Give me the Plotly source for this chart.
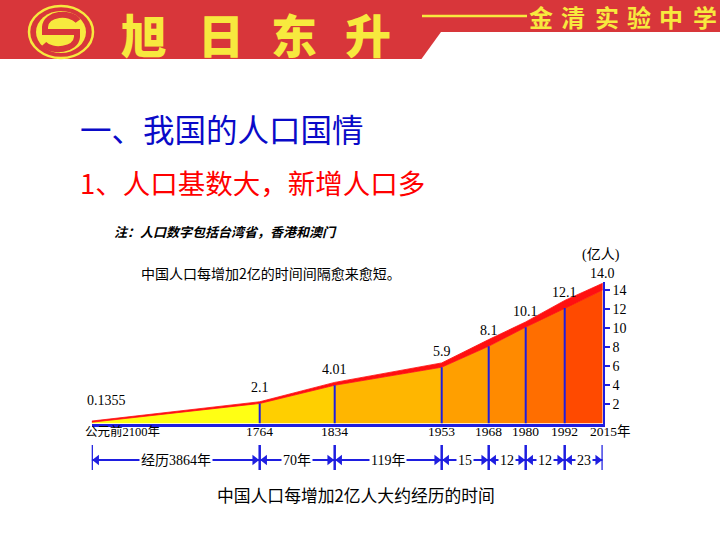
import plotly.graph_objects as go

# ---------------- data ----------------
years = ["公元前2100年", "1764", "1834", "1953", "1968", "1980", "1992", "2015年"]
population = [0.1355, 2.1, 4.01, 5.9, 8.1, 10.1, 12.1, 14.0]          # 亿人
interval_labels = ["经历3864年", "70年", "119年", "15", "12", "12", "23"]
y_ticks = [2, 4, 6, 8, 10, 12, 14]

# ---------------- style / layout ----------------
seg_width = [168, 75, 107, 47, 37, 39, 38]          # drawn width of each period
seg_colors = ["#ffff14", "#ffcf00", "#ffb600", "#ff9f00", "#ff8a00", "#ff6e00", "#ff4a00"]
band = [0.12, 0.18, 0.3, 0.45, 0.7, 0.55, 0.8, 0.7]  # thickness of red top band
BLUE = "#1e1ee0"
RED_BANNER = "#d8363a"
YELLOW = "#f7e93e"
CJK = "Noto Sans CJK SC"
SERIF = "Liberation Serif, Noto Sans CJK SC"

W, H = 720, 540


def px(x):
    return x / W


def py(y):
    return 1 - y / H


xs = [0]
for w in seg_width:
    xs.append(xs[-1] + w)

fig = go.Figure()

# coloured area segments
for i in range(len(seg_width)):
    fig.add_trace(go.Scatter(
        x=[xs[i], xs[i], xs[i + 1], xs[i + 1]],
        y=[0, population[i], population[i + 1], 0],
        fill="toself", fillcolor=seg_colors[i], mode="lines",
        line=dict(width=0), hoverinfo="skip", showlegend=False))

# red top band
top = [p + b for p, b in zip(population, band)]
fig.add_trace(go.Scatter(
    x=xs + xs[::-1], y=top + population[::-1],
    fill="toself", fillcolor="#ff1010", mode="lines",
    line=dict(width=0.8, color="#ff1010"), hoverinfo="skip", showlegend=False))

# vertical divider lines
vx, vy = [], []
for i in range(1, len(xs) - 1):
    vx += [xs[i], xs[i], None]
    vy += [0, population[i], None]
fig.add_trace(go.Scatter(x=vx, y=vy, mode="lines", line=dict(color=BLUE, width=2),
                         hoverinfo="skip", showlegend=False))

# interval row (y2): bars, arrow lines, arrowheads
bx, by = [], []
for x in xs:
    bx += [x, x, None]
    by += [0, 1, None]
fig.add_trace(go.Scatter(x=bx, y=by, yaxis="y2", mode="lines",
                         line=dict(color=BLUE, width=2.5), hoverinfo="skip", showlegend=False))
ax_, ay_ = [], []
hx, hy, hs = [], [], []
for i in range(len(seg_width)):
    ax_ += [xs[i], xs[i + 1], None]
    ay_ += [0.4, 0.4, None]
    hx += [xs[i] + 5, xs[i + 1] - 5]
    hy += [0.4, 0.4]
    hs += ["triangle-left", "triangle-right"]
fig.add_trace(go.Scatter(x=ax_, y=ay_, yaxis="y2", mode="lines",
                         line=dict(color=BLUE, width=2), hoverinfo="skip", showlegend=False))
fig.add_trace(go.Scatter(x=hx, y=hy, yaxis="y2", mode="markers",
                         marker=dict(symbol=hs, size=9, color=BLUE),
                         hoverinfo="skip", showlegend=False))

ann = []


def T(text, x, y, size, color="black", family=CJK, xanchor="center", **font_kw):
    ann.append(dict(text=text, x=px(x), y=py(y), xref="paper", yref="paper",
                    xanchor=xanchor, yanchor="middle", showarrow=False,
                    font=dict(size=size, color=color, family=family, **font_kw)))


# header texts
for ch, cx in zip("旭日东升", [144, 221, 294, 368]):
    T(ch, cx, 33, 46, YELLOW, CJK, weight=900)
for ch, cx in zip("金清实验中学", [541, 573, 607, 639, 671, 705]):
    T(ch, cx, 17, 24, YELLOW, CJK, weight="bold")

# slide titles
T("一、我国的人口国情", 78, 128, 31.5, "#0a0ac8", xanchor="left")
T("1、人口基数大，新增人口多", 78, 182, 27.5, "#ff0000", xanchor="left")
T("注：人口数字包括台湾省，香港和澳门", 112, 231, 13, "black", xanchor="left",
  weight="bold", style="italic")
T("中国人口每增加2亿的时间间隔愈来愈短。", 139, 273, 14, "black", xanchor="left")
T("(亿人)", 601, 255, 14, "black", SERIF)
T("中国人口每增加2亿人大约经历的时间", 356, 495, 16.8, "black")

# data labels
for i, (x, v) in enumerate(zip(xs, population)):
    d = dict(text=str(v), x=x, y=v, xref="x", yref="y", showarrow=False,
             xanchor="center", yanchor="middle", yshift=16,
             font=dict(size=14, family=SERIF, color="black"))
    if i == 0:
        d.update(xanchor="left", xshift=-7, yshift=22)
    ann.append(d)

# year labels under axis
for i, (x, t) in enumerate(zip(xs, years)):
    d = dict(text=t, x=x, y=py(431), xref="x", yref="paper", showarrow=False,
             xanchor="center", yanchor="middle",
             font=dict(size=13.5, family=SERIF, color="black"))
    if i == 0:
        d.update(xanchor="left", xshift=-9, font=dict(size=12.5, family=SERIF, color="black"))
    if i == len(xs) - 1:
        d.update(xanchor="left", xshift=-15)
    ann.append(d)

# interval labels
for i, t in enumerate(interval_labels):
    ann.append(dict(text=t, x=(xs[i] + xs[i + 1]) / 2, y=0.4, xref="x", yref="y2",
                    showarrow=False, xanchor="center", yanchor="middle",
                    bgcolor="white", borderpad=1,
                    font=dict(size=14, family=SERIF, color="black")))

# shapes: banner + logo
sp = []
sp.append(dict(type="rect", xref="paper", yref="paper", x0=0, x1=1, y0=py(59), y1=1,
               fillcolor=RED_BANNER, line=dict(width=0), layer="below"))
sp.append(dict(type="path", xref="paper", yref="paper",
               path=f"M {px(420)},{py(61)} L {px(441)},{py(32)} L {px(722)},{py(32)} L {px(722)},{py(61)} Z",
               fillcolor="white", line=dict(width=0), layer="below"))
sp.append(dict(type="line", xref="paper", yref="paper", x0=px(422), x1=px(527),
               y0=py(16), y1=py(16), line=dict(color=YELLOW, width=2.5)))
sp.append(dict(type="circle", xref="paper", yref="paper", x0=px(29), x1=px(93),
               y0=py(58), y1=py(6), line=dict(color=YELLOW, width=2.5)))
sp.append(dict(type="circle", xref="paper", yref="paper", x0=px(36), x1=px(86),
               y0=py(53), y1=py(11), fillcolor=YELLOW, line=dict(width=0)))


def P(pts):
    out = []
    for cmd, coords in pts:
        c = " ".join(f"{px(a)},{py(b)}" for a, b in coords)
        out.append(f"{cmd} {c}")
    return " ".join(out)


s_path = P([("M", [(78, 21)]), ("C", [(70, 11), (46, 13), (45, 27)]),
            ("L", [(45, 32)]), ("L", [(77, 32)]), ("L", [(77, 37)]),
            ("C", [(76, 50), (52, 53), (44, 44)])])
sp.append(dict(type="path", xref="paper", yref="paper", path=s_path,
               line=dict(color=RED_BANNER, width=6)))

y_px_per_unit = 9.54
y0_px = 423.5
y_top = 14.8

fig.update_layout(
    width=W, height=H, margin=dict(l=0, r=0, t=0, b=0),
    paper_bgcolor="white", plot_bgcolor="rgba(0,0,0,0)",
    showlegend=False,
    xaxis=dict(domain=[px(91.7), px(91.7 + xs[-1])], range=[0, xs[-1]],
               showgrid=False, zeroline=False, showticklabels=False, ticks="",
               showline=True, linecolor=BLUE, linewidth=3, fixedrange=True),
    yaxis=dict(domain=[py(y0_px), py(y0_px - y_top * y_px_per_unit)], range=[0, y_top],
               side="right", anchor="x", showgrid=False, zeroline=False,
               showline=True, linecolor=BLUE, linewidth=2,
               ticks="outside", tickvals=y_ticks, ticklen=5, tickwidth=2, tickcolor=BLUE,
               tickfont=dict(size=14, family=SERIF, color="black"), fixedrange=True),
    yaxis2=dict(domain=[py(470), py(445)], range=[0, 1], anchor="x", visible=False,
                fixedrange=True),
    annotations=ann, shapes=sp,
)

fig.write_html("out.html", config={"displayModeBar": False},
               post_script="document.body.style.margin='0';document.body.style.padding='0';")
